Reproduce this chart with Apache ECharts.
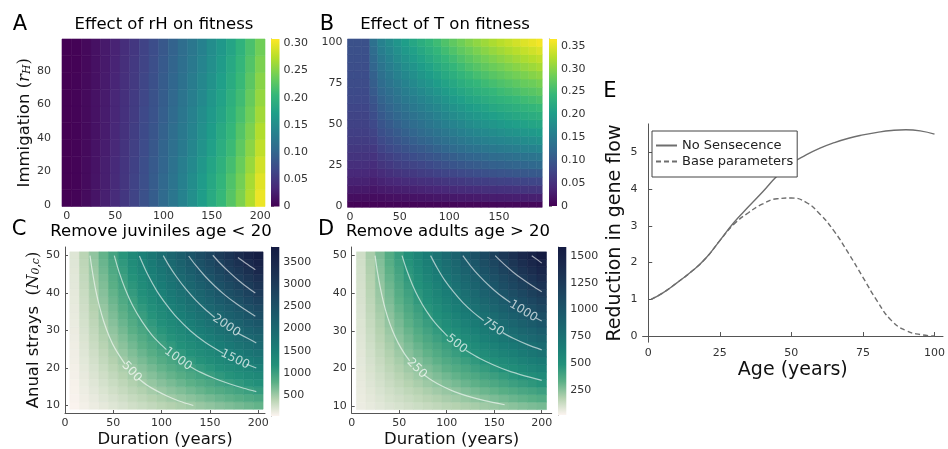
<!DOCTYPE html>
<html><head><meta charset="utf-8">
<script src="https://cdn.jsdelivr.net/npm/echarts@6/dist/echarts.min.js"></script>
<style>html,body{margin:0;padding:0;background:#fff;}#chart{width:948px;height:449px;}</style>
</head><body><div id="chart"></div>
<script>
// ---------------- DATA ----------------
// Panel A: Effect of rH on fitness (columns = x, rows = Immigation r_H)
const xA = [0,10,20,30,40,50,60,70,80,90,100,110,120,130,140,150,160,170,180,190,200];
const yA = [4,14,24,34,44,54,64,74,84,94];
const valuesA = [
[0,.003,.009,.017,.027,.038,.050,.063,.077,.091,.106,.121,.137,.153,.170,.187,.205,.225,.247,.272,.300],
[0,.003,.009,.017,.026,.037,.049,.062,.075,.089,.104,.119,.134,.150,.167,.183,.201,.221,.242,.267,.294],
[0,.003,.009,.016,.026,.036,.048,.060,.074,.087,.101,.116,.131,.146,.162,.179,.196,.215,.236,.260,.287],
[0,.003,.008,.016,.025,.035,.047,.059,.072,.085,.099,.113,.127,.142,.158,.174,.191,.209,.230,.253,.279],
[0,.003,.008,.015,.024,.034,.045,.057,.070,.082,.096,.110,.124,.138,.154,.169,.186,.204,.224,.246,.272],
[0,.003,.008,.015,.024,.033,.044,.055,.068,.080,.093,.106,.121,.135,.150,.165,.180,.198,.217,.239,.264],
[0,.003,.008,.015,.023,.033,.043,.054,.066,.078,.091,.104,.118,.132,.146,.161,.176,.194,.212,.234,.258],
[0,.003,.008,.014,.023,.032,.042,.053,.065,.076,.089,.102,.115,.129,.143,.157,.172,.189,.207,.228,.252],
[0,.002,.007,.014,.022,.031,.041,.052,.063,.075,.087,.099,.112,.125,.139,.153,.168,.185,.203,.223,.246],
[0,.002,.007,.014,.022,.030,.040,.050,.062,.073,.085,.097,.110,.122,.136,.150,.164,.180,.198,.218,.240]
];
// Panel B: Effect of T on fitness
const xB = [0,8,16,24,32,40,48,56,64,72,80,88,96,104,112,120,128,136,144,152,160,168,176,184,192];
const yB = [0,5,10,15,20,25,30,35,40,45,50,55,60,65,70,75,80,85,90,95,100];
const valuesB = [
[.003,.003,.003,.003,.003,.004,.004,.004,.004,.005,.005,.005,.005,.005,.006,.006,.006,.006,.006,.007,.007,.007,.007,.007,.007],
[.014,.014,.014,.012,.014,.016,.017,.018,.019,.020,.021,.023,.024,.025,.026,.026,.027,.028,.029,.029,.030,.031,.031,.032,.032],
[.025,.025,.025,.022,.026,.028,.030,.032,.034,.036,.038,.040,.042,.044,.045,.047,.048,.050,.051,.052,.053,.054,.056,.056,.058],
[.034,.034,.034,.030,.035,.039,.042,.045,.047,.050,.052,.055,.058,.060,.062,.065,.067,.068,.070,.072,.073,.075,.076,.078,.079],
[.042,.042,.042,.039,.046,.051,.055,.059,.062,.066,.069,.073,.076,.079,.082,.085,.088,.090,.093,.095,.097,.099,.101,.102,.104],
[.049,.049,.049,.047,.056,.061,.067,.071,.075,.079,.083,.088,.092,.096,.099,.103,.106,.109,.112,.114,.117,.119,.121,.124,.126],
[.055,.055,.055,.054,.064,.070,.076,.081,.086,.091,.095,.100,.105,.109,.114,.118,.121,.124,.128,.130,.133,.136,.139,.141,.144],
[.060,.060,.060,.062,.074,.081,.087,.093,.099,.104,.109,.115,.121,.126,.131,.135,.139,.143,.147,.150,.153,.156,.160,.162,.166],
[.065,.065,.065,.069,.082,.089,.097,.104,.110,.116,.121,.128,.134,.139,.145,.150,.155,.159,.163,.166,.170,.173,.177,.180,.184],
[.069,.069,.069,.075,.089,.097,.105,.113,.119,.126,.132,.139,.145,.152,.158,.163,.168,.173,.177,.181,.185,.189,.193,.196,.200],
[.072,.072,.072,.081,.096,.105,.114,.122,.129,.136,.143,.150,.157,.164,.170,.176,.182,.187,.191,.196,.200,.204,.208,.212,.216],
[.075,.075,.075,.086,.102,.112,.122,.130,.138,.145,.152,.160,.168,.175,.182,.188,.194,.199,.204,.209,.213,.218,.222,.226,.230],
[.078,.078,.078,.092,.109,.119,.129,.138,.146,.154,.162,.170,.178,.186,.193,.200,.206,.211,.217,.222,.226,.231,.236,.240,.245],
[.081,.081,.081,.097,.115,.126,.137,.146,.155,.163,.171,.180,.189,.197,.204,.212,.218,.224,.230,.235,.240,.245,.250,.254,.259],
[.083,.083,.083,.103,.122,.133,.144,.154,.163,.173,.181,.190,.199,.207,.216,.223,.230,.236,.242,.248,.253,.258,.264,.268,.274],
[.085,.085,.085,.108,.128,.140,.152,.162,.172,.182,.190,.200,.210,.218,.227,.235,.242,.249,.255,.261,.266,.272,.278,.282,.288],
[.086,.086,.086,.113,.134,.147,.160,.171,.181,.191,.200,.210,.220,.229,.239,.247,.255,.261,.268,.274,.280,.286,.291,.297,.302],
[.088,.088,.088,.119,.141,.154,.167,.179,.189,.200,.209,.220,.231,.240,.250,.259,.267,.274,.281,.287,.293,.299,.305,.311,.317],
[.089,.089,.089,.124,.147,.161,.175,.187,.198,.209,.219,.230,.241,.251,.261,.270,.279,.286,.293,.300,.306,.313,.319,.325,.331],
[.090,.090,.090,.130,.154,.168,.182,.195,.206,.218,.228,.240,.252,.262,.273,.282,.291,.299,.306,.313,.320,.326,.333,.339,.346],
[.091,.091,.091,.135,.160,.175,.190,.203,.215,.227,.238,.250,.262,.273,.284,.294,.303,.311,.319,.326,.333,.340,.347,.353,.360]
];
// Panels C and D: Duration (years) x Anual strays
const xCD = [10,20,30,40,50,60,70,80,90,100,110,120,130,140,150,160,170,180,190,200];
const yCD = [10,12,14,16,18,20,22,24,26,28,30,32,34,36,38,40,42,44,46,48,50];
const valuesC = [
[38,75,113,150,188,225,263,300,338,375,413,450,488,525,563,600,638,675,713,750],
[45,90,135,180,225,270,315,360,405,450,495,540,585,630,675,720,765,810,855,900],
[53,105,158,210,263,315,368,420,473,525,578,630,683,735,788,840,893,945,998,1050],
[60,120,180,240,300,360,420,480,540,600,660,720,780,840,900,960,1020,1080,1140,1200],
[68,135,203,270,338,405,473,540,608,675,743,810,878,945,1013,1080,1148,1215,1283,1350],
[75,150,225,300,375,450,525,600,675,750,825,900,975,1050,1125,1200,1275,1350,1425,1500],
[83,165,248,330,413,495,578,660,743,825,908,990,1073,1155,1238,1320,1403,1485,1568,1650],
[90,180,270,360,450,540,630,720,810,900,990,1080,1170,1260,1350,1440,1530,1620,1710,1800],
[98,195,293,390,488,585,683,780,878,975,1073,1170,1268,1365,1463,1560,1658,1755,1853,1950],
[105,210,315,420,525,630,735,840,945,1050,1155,1260,1365,1470,1575,1680,1785,1890,1995,2100],
[113,225,338,450,563,675,788,900,1013,1125,1238,1350,1463,1575,1688,1800,1913,2025,2138,2250],
[120,240,360,480,600,720,840,960,1080,1200,1320,1440,1560,1680,1800,1920,2040,2160,2280,2400],
[128,255,383,510,638,765,893,1020,1148,1275,1403,1530,1658,1785,1913,2040,2168,2295,2423,2550],
[135,270,405,540,675,810,945,1080,1215,1350,1485,1620,1755,1890,2025,2160,2295,2430,2565,2700],
[143,285,428,570,713,855,998,1140,1283,1425,1568,1710,1853,1995,2138,2280,2423,2565,2708,2850],
[150,300,450,600,750,900,1050,1200,1350,1500,1650,1800,1950,2100,2250,2400,2550,2700,2850,3000],
[158,315,473,630,788,945,1103,1260,1418,1575,1733,1890,2048,2205,2363,2520,2678,2835,2993,3150],
[165,330,495,660,825,990,1155,1320,1485,1650,1815,1980,2145,2310,2475,2640,2805,2970,3135,3300],
[173,345,518,690,863,1035,1208,1380,1553,1725,1898,2070,2243,2415,2588,2760,2933,3105,3278,3450],
[180,360,540,720,900,1080,1260,1440,1620,1800,1980,2160,2340,2520,2700,2880,3060,3240,3420,3600],
[188,375,563,750,938,1125,1313,1500,1688,1875,2063,2250,2438,2625,2813,3000,3188,3375,3563,3750]
];
const valuesD = [
[52,64,76,89,101,113,125,137,149,162,174,186,198,210,222,234,247,259,271,283],
[55,71,86,102,117,132,148,163,179,194,209,225,240,255,271,286,302,317,332,348],
[59,77,96,115,133,152,170,189,208,226,245,264,282,301,319,338,357,375,394,413],
[62,84,106,127,149,171,193,215,237,259,281,302,324,346,368,390,412,434,456,477],
[65,90,115,140,166,191,216,241,266,291,316,341,366,392,417,442,467,492,517,542],
[68,97,125,153,182,210,238,267,295,324,352,380,409,437,465,494,522,550,579,607],
[72,103,135,166,198,230,261,293,324,356,387,419,451,482,514,545,577,609,640,672],
[75,110,144,179,214,249,284,319,353,388,423,458,493,528,562,597,632,667,702,737],
[78,116,154,192,230,268,306,345,383,421,459,497,535,573,611,649,687,725,763,801],
[81,123,164,205,247,288,329,370,412,453,494,536,577,618,660,701,742,784,825,866],
[85,129,174,218,263,307,352,396,441,486,530,575,619,664,708,753,797,842,886,931],
[88,136,183,231,279,327,375,422,470,518,566,613,661,709,757,805,852,900,948,996],
[91,142,193,244,295,346,397,448,499,550,601,652,703,754,805,856,908,959,1010,1061],
[94,149,203,257,311,366,420,474,528,583,637,691,746,800,854,908,963,1017,1071,1125],
[98,155,213,270,328,385,443,500,558,615,673,730,788,845,903,960,1018,1075,1133,1190],
[101,162,222,283,344,405,465,526,587,648,708,769,830,891,951,1012,1073,1134,1194,1255],
[104,168,232,296,360,424,488,552,616,680,744,808,872,936,1000,1064,1128,1192,1256,1320],
[107,174,242,309,376,443,511,578,645,712,780,847,914,981,1048,1116,1183,1250,1317,1385],
[110,181,251,322,392,463,533,604,674,745,815,886,956,1027,1097,1168,1238,1308,1379,1449],
[114,187,261,335,409,482,556,630,703,777,851,925,998,1072,1146,1219,1293,1367,1440,1514],
[117,194,271,348,425,502,579,656,733,810,886,963,1040,1117,1194,1271,1348,1425,1502,1579]
];
// Contour lines (null = gap for the label)
const contoursC = [
[[25.9,50],[28,46.3],[32,40.5],[36,36.1],[40,32.5],[46,28.3],[52,25.1],[62,21.1],null,[76,17.2],[85,15.4],[95,13.9],[105,12.6],[118,11.2],[132.8,10]],
[[51,50],[56,45.6],[62,41.3],[70,36.7],[80,32.3],[90,28.8],[100,26.1],[105,24.9],null,[129,20.5],[140,18.9],[155,17.2],[170,15.8],[185,14.6],[198,13.7]],
[[77,49.9],[85,45.3],[95,40.6],[105,36.9],[115,33.7],[130,29.9],[145,26.9],[164,23.9],null,[188,21.0],[198,20.0]],
[[101.7,50],[108,47.2],[115,44.5],[125,41.1],[135,38.2],[145,35.7],[155,33.5],null,[179,29.3],[190,27.8],[198,26.7]],
[[128,49.9],[135,47.5],[145,44.5],[155,41.9],[165,39.6],[175,37.6],[185,35.8],[197,33.8]],
[[153,50.1],[160,48.1],[170,45.6],[180,43.3],[190,41.3],[197,40.0]],
[[179,49.5],[188,47.8],[197,46.2]]
];
const contourLabelsC = [[69,19.0,'500'],[117,22.4,'1000'],[176,22.3,'1500'],[167,31.3,'2000']];
const contoursD = [
[[24.6,50],[27,45.8],[30,41.6],[34,37.0],[38,33.5],[43,30.0],[49,26.7],[55,24.1],[61,22.0],null,[76,18.3],[85,16.7],[95,15.3],[108,13.8],[122,12.6],[140,11.4],[161,10.3]],
[[53,50],[58,46.1],[64,42.2],[70,39.0],[78,35.5],[88,32.0],[101,28.5],null,[120,24.8],[135,22.6],[150,20.8],[165,19.3],[182,18.0],[200,16.8]],
[[83,50],[90,46.7],[98,43.4],[107,40.4],[117,37.5],[128,34.9],[139,32.7],null,[159,29.5],[170,28.0],[185,26.3],[200,24.9]],
[[117,50],[125,47.3],[135,44.4],[145,41.9],[155,39.7],[167,37.5],null,[194,33.4],[200,32.6]],
[[151,50],[160,47.8],[170,45.6],[180,43.7],[190,42.0],[200,40.4]],
[[189.5,50],[195,49],[200,48]]
];
const contourLabelsD = [[68.4,20.0,'250'],[110.5,26.5,'500'],[149,31.0,'750'],[180.7,35.2,'1000']];
// Panel E: Reduction in gene flow vs Age
const ageE = [1,5,10,15,20,25,30,35,40,45,50,55,60,65,70,75,80,85,90,95,100];
const noSenescence = [1.0,1.17,1.45,1.75,2.11,2.6,3.1,3.52,3.93,4.36,4.70,4.93,5.12,5.27,5.39,5.48,5.55,5.60,5.62,5.59,5.50];
const baseParameters = [1.0,1.17,1.45,1.75,2.11,2.6,3.05,3.36,3.60,3.74,3.76,3.65,3.32,2.85,2.25,1.60,0.95,0.42,0.15,0.04,0.0];
// Tick labels
const ticksA_x = [0,50,100,150,200], ticksA_y = [0,20,40,60,80];
const ticksB_x = [0,50,100,150], ticksB_y = [0,25,50,75,100];
const ticksCD_x = [0,50,100,150,200], ticksCD_y = [10,20,30,40,50];
const ticksCbA = [0,0.05,0.10,0.15,0.20,0.25,0.30];
const ticksCbB = [0,0.05,0.10,0.15,0.20,0.25,0.30,0.35];
const ticksCbC = [500,1000,1500,2000,2500,3000,3500];
const ticksCbD = [250,500,750,1000,1250,1500];
const ticksE_x = [0,25,50,75,100], ticksE_y = [0,1,2,3,4,5];
// colour ranges
const rangeA = [0,0.308], rangeB = [0,0.365], rangeC = [26,3838], rangeD = [17,1584];

// ---------------- STYLE / BUILD ----------------
const FONT = 'DejaVu Sans';
const viridis = ['#440154','#482878','#3e4989','#31688e','#26828e','#1f9e89','#35b779','#6ece58','#b5de2b','#fde725'];
const tempo = ['#fcf4f0','#b5d2b0','#5aaf86','#23917a','#1a7d76','#1b6b71','#1b5a6b','#1c4962','#1c3857','#1a284c','#141b42'];

function gridData(xs, ys, rows){
  const out=[]; ys.forEach((y,i)=>xs.forEach((x,j)=>out.push([x,y,rows[i][j]]))); return out;
}
function cellRenderer(w,h){
  return function(params, api){
    const x=api.value(0), y=api.value(1);
    const p0=api.coord([x-w/2, y+h/2]), p1=api.coord([x+w/2, y-h/2]);
    const cs=params.coordSys;
    const r=echarts.graphic.clipRectByRect({x:p0[0],y:p0[1],width:p1[0]-p0[0],height:p1[1]-p0[1]},{x:cs.x,y:cs.y,width:cs.width,height:cs.height});
    if(!r) return null;
    const c=api.visual('color');
    return {type:'rect', shape:r, style:{fill:c, stroke:c, lineWidth:0.6}};
  };
}
function colorbarRenderer(colors){
  return function(params, api){
    const p0=api.coord([0, api.value(1)]), p1=api.coord([1, api.value(0)]);
    const stops=colors.map((c,i)=>({offset:i/(colors.length-1), color:c}));
    return {type:'rect', shape:{x:p0[0], y:p0[1], width:p1[0]-p0[0], height:p1[1]-p0[1]},
      style:{fill:new echarts.graphic.LinearGradient(0,1,0,0,stops)}};
  };
}
const lbl = (vals, extra) => Object.assign({customValues:vals, fontSize:11, color:'#333', fontFamily:FONT}, extra||{});
const nameStyle = (size) => ({fontSize:size, color:'#111', fontFamily:FONT,
  rich:{n:{fontSize:size, fontFamily:FONT, color:'#111'}, m:{fontSize:size, fontFamily:'DejaVu Serif', color:'#111'},
        i:{fontSize:size, fontFamily:'DejaVu Serif', fontStyle:'italic', color:'#111'},
        s:{fontSize:size*0.66, fontFamily:'DejaVu Serif', fontStyle:'italic', color:'#111', verticalAlign:'bottom'}}});

const grids = [
  {left:62, top:39, width:203, height:167.5},      // 0 A
  {left:271, top:39, width:8.5, height:167.5},     // 1 cb A
  {left:347.5, top:39, width:194.7, height:168.3}, // 2 B
  {left:549, top:39, width:8, height:167},         // 3 cb B
  {left:65, top:247, width:200, height:168},       // 4 C
  {left:271, top:247, width:8.3, height:169},      // 5 cb C
  {left:351.7, top:247, width:200, height:168},    // 6 D
  {left:558, top:247, width:8.3, height:168},      // 7 cb D
  {left:642.6, top:123.9, width:302.6, height:218.3} // 8 E
];
const hidden = {axisLine:{show:false}, axisTick:{show:false}, splitLine:{show:false}};
const cbX = (gi)=>({gridIndex:gi, type:'value', min:0, max:1, show:false});
const cbY = (gi, range, ticks, fmt)=>({gridIndex:gi, type:'value', position:'right', min:range[0], max:range[1],
  axisLine:{show:true, lineStyle:{color:'#888'}}, axisTick:{show:true, length:3, customValues:ticks, lineStyle:{color:'#888'}},
  splitLine:{show:false}, axisLabel:lbl(ticks,{margin:4, formatter:fmt})});
const fmt2 = v => v===0 ? '0' : v.toFixed(2);
const fmtInt = v => String(Math.round(v));
const axCD = {axisLine:{show:true, lineStyle:{color:'#555'}}, axisTick:{show:true, inside:true, length:3, lineStyle:{color:'#555'}}, splitLine:{show:false}};

const xAxes = [
  Object.assign({gridIndex:0, type:'value', min:-5, max:205, axisLabel:lbl(ticksA_x,{margin:4})}, hidden),
  cbX(1),
  Object.assign({gridIndex:2, type:'value', min:-2.5, max:193.5, axisLabel:lbl(ticksB_x,{margin:4})}, hidden),
  cbX(3),
  Object.assign({gridIndex:4, type:'value', min:0, max:207, axisLabel:lbl(ticksCD_x,{margin:5}),
    name:'Duration (years)', nameLocation:'middle', nameGap:18, nameTextStyle:{fontSize:16.5, color:'#111', fontFamily:FONT}}, axCD,
    {axisTick:Object.assign({}, axCD.axisTick, {customValues:ticksCD_x})}),
  cbX(5),
  Object.assign({gridIndex:6, type:'value', min:0, max:210.5, axisLabel:lbl(ticksCD_x,{margin:5}),
    name:'Duration (years)', nameLocation:'middle', nameGap:18, nameTextStyle:{fontSize:16.5, color:'#111', fontFamily:FONT}}, axCD,
    {axisTick:Object.assign({}, axCD.axisTick, {customValues:ticksCD_x})}),
  cbX(7),
  {gridIndex:8, type:'value', min:-1.97, max:102.97, axisLine:{lineStyle:{color:'#555'}},
    axisTick:{inside:true, length:4, customValues:ticksE_x, lineStyle:{color:'#555'}}, splitLine:{show:false},
    axisLabel:lbl(ticksE_x,{margin:5}), name:'Age (years)', nameLocation:'middle', nameGap:18,
    nameTextStyle:{fontSize:19, color:'#111', fontFamily:FONT}}
];
const yAxes = [
  Object.assign({gridIndex:0, type:'value', min:-1, max:99, axisLabel:lbl(ticksA_y,{margin:11}),
    name:'{n|Immigation }{m|(}{i|r}{s|H}{m|)}', nameLocation:'middle', nameGap:21, nameTextStyle:nameStyle(16.5)}, hidden),
  cbY(1, rangeA, ticksCbA, fmt2),
  Object.assign({gridIndex:2, type:'value', min:-1, max:102, axisLabel:lbl(ticksB_y,{margin:5})}, hidden),
  cbY(3, rangeB, ticksCbB, fmt2),
  Object.assign({gridIndex:4, type:'value', min:8, max:52.3, axisLabel:lbl(ticksCD_y,{margin:5}),
    name:'{n|Anual strays  }{m|(}{i|N}{s|0,c}{m|)}', nameLocation:'middle', nameGap:22, nameTextStyle:nameStyle(16.5)}, axCD,
    {axisTick:Object.assign({}, axCD.axisTick, {customValues:ticksCD_y})}),
  cbY(5, rangeC, ticksCbC, fmtInt),
  Object.assign({gridIndex:6, type:'value', min:8.1, max:52.3, axisLabel:lbl(ticksCD_y,{margin:5})}, axCD,
    {axisTick:Object.assign({}, axCD.axisTick, {customValues:ticksCD_y})}),
  cbY(7, rangeD, ticksCbD, fmtInt),
  {gridIndex:8, type:'value', min:-0.168, max:5.78, axisLine:{show:true, lineStyle:{color:'#555'}},
    axisTick:{show:true, inside:true, length:4, customValues:ticksE_y, lineStyle:{color:'#555'}}, splitLine:{show:false},
    axisLabel:lbl(ticksE_y,{margin:5}), name:'Reduction in gene flow', nameLocation:'middle', nameGap:18,
    nameTextStyle:{fontSize:19, color:'#111', fontFamily:FONT}}
];

const series = [];
const visualMaps = [];
function addHeat(gi, xs, ys, rows, w, h, range, cmap){
  visualMaps.push({type:'continuous', show:false, seriesIndex:series.length, dimension:2, min:range[0], max:range[1], inRange:{color:cmap}});
  series.push({type:'custom', xAxisIndex:gi, yAxisIndex:gi, data:gridData(xs,ys,rows), encode:{x:0,y:1},
    renderItem:cellRenderer(w,h), silent:true, z:1});
  series.push({type:'custom', xAxisIndex:gi+1, yAxisIndex:gi+1, data:[[range[0], range[1]]], encode:{y:[0,1]},
    renderItem:colorbarRenderer(cmap), silent:true, z:1});
}
addHeat(0, xA, yA, valuesA, 10, 10, rangeA, viridis);
addHeat(2, xB, yB, valuesB, 8, 5, rangeB, viridis);
addHeat(4, xCD, yCD, valuesC, 10, 2, rangeC, tempo);
addHeat(6, xCD, yCD, valuesD, 10, 2, rangeD, tempo);

function addContours(gi, contours, labels, angles){
  contours.forEach(c=>{
    let seg=[];
    const flush=()=>{ if(seg.length>1) series.push({type:'line', xAxisIndex:gi, yAxisIndex:gi, data:seg, smooth:0.3,
      symbol:'none', silent:true, z:3, lineStyle:{color:'rgba(255,255,255,0.6)', width:1.2}}); seg=[]; };
    c.forEach(p=>{ if(p===null) flush(); else seg.push(p); });
    flush();
  });
  series.push({type:'scatter', xAxisIndex:gi, yAxisIndex:gi, symbolSize:2, itemStyle:{color:'rgba(0,0,0,0)'}, silent:true, z:4,
    data: labels.map((l,i)=>({value:[l[0],l[1]], name:l[2], label:{show:true, rotate:angles[i]}})),
    label:{show:true, position:'inside', formatter:'{b}', color:'rgba(255,255,255,0.88)', fontSize:12, fontFamily:FONT}});
}
addContours(4, contoursC, contourLabelsC, [-47,-36,-26,-34]);
addContours(6, contoursD, contourLabelsD, [-45,-38,-33,-31]);

series.push({type:'line', name:'No Sensecence', xAxisIndex:8, yAxisIndex:8, data:ageE.map((a,i)=>[a,noSenescence[i]]),
  smooth:true, symbol:'none', lineStyle:{color:'#6e6e6e', width:1.4}, itemStyle:{color:'#6e6e6e'}, z:2});
series.push({type:'line', name:'Base parameters', xAxisIndex:8, yAxisIndex:8, data:ageE.map((a,i)=>[a,baseParameters[i]]),
  smooth:true, symbol:'none', lineStyle:{color:'#6e6e6e', width:1.4, type:[5,3]}, itemStyle:{color:'#6e6e6e'}, z:2});

const txt = (x,y,t,size)=>({type:'text', x:x, y:y, silent:true, z:10,
  style:{text:t, fontSize:size, fontFamily:FONT, fill:'#000', align:'center', verticalAlign:'middle'}});

const option = {
  animation:false,
  grid:grids, xAxis:xAxes, yAxis:yAxes, series:series, visualMap:visualMaps,
  legend:{data:['No Sensecence','Base parameters'], orient:'vertical', left:652, top:131,
    padding:[8,4,9,3], itemGap:3, itemWidth:21, itemHeight:13, borderColor:'#444', borderWidth:1, borderRadius:0,
    itemStyle:{opacity:0}, backgroundColor:'#fff', textStyle:{fontSize:13, color:'#222', fontFamily:FONT}},
  graphic:[
    txt(20,25,'A',21), txt(327,25,'B',21), txt(19,230,'C',21), txt(326,230,'D',21), txt(610,92,'E',21),
    txt(164,25,'Effect of rH on fitness',16.5), txt(445,25,'Effect of T on fitness',16.5),
    txt(161,232,'Remove juviniles age < 20',16.5), txt(448,232,'Remove adults age > 20',16.5)
  ]
};
const chart = echarts.init(document.getElementById('chart'), null, {renderer:'canvas'});
chart.setOption(option);
</script>
</body></html>
